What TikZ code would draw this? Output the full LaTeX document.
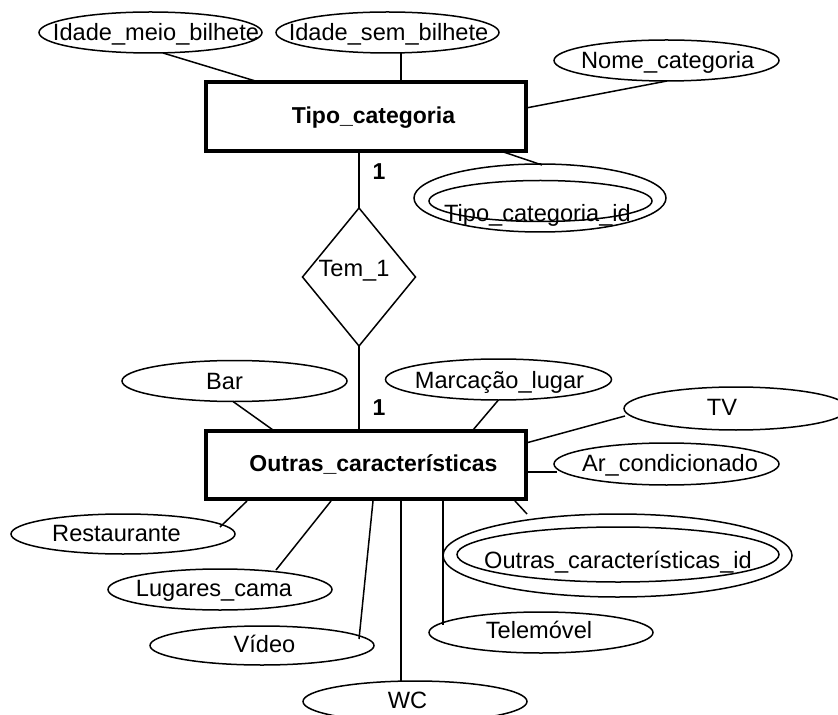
\documentclass[tikz,border=0pt]{standalone}
\usepackage{fontspec}
\setmainfont{Liberation Sans}
\usetikzlibrary{shapes.geometric,calc}

\begin{document}
\begin{tikzpicture}[x=0.5pt,y=-0.5pt,
  every node/.style={inner sep=0pt, outer sep=0pt},
  link/.style={line width=0.75pt},
  entity/.style={draw, rectangle, line width=2pt},
  attr/.style={draw, ellipse, line width=0.75pt},
  rel/.style={draw, diamond, line width=0.75pt},
  txt/.style={anchor=base, font=\fontsize{11.8}{14}\selectfont},
  btxt/.style={anchor=base, font=\fontsize{11.5}{14}\selectfont\bfseries},
]
\useasboundingbox (0,0) rectangle (838,715);

% entities
\node[entity, minimum width=160pt, minimum height=34.5pt] (tc) at (366,116.5) {};
\node[btxt] (tc-t) at (373.5,124) {Tipo\_categoria};
\node[entity, minimum width=160pt, minimum height=34pt] (oc) at (366,465) {};
\node[btxt] (oc-t) at (373.5,471.7) {Outras\_características};

% relationship
\node[rel, minimum width=56.5pt, minimum height=69pt] (tem) at (359,277) {};
\node[txt] (tem-t) at (354,276.7) {Tem\_1};
\draw[link] (tem.north) -- (tem.north |- tc.south);
\draw[link] (tem.south) -- (tem.south |- oc.north);
\node[btxt] (card-a) at (379,180) {1};
\node[btxt] (card-b) at (379,415) {1};

% attributes of Tipo_categoria
\node[attr, minimum width=111.5pt, minimum height=20.5pt] (imb) at (150.5,32.5) {};
\node[txt] (imb-t) at (156,40.7) {Idade\_meio\_bilhete};
\node[attr, minimum width=111.5pt, minimum height=20.5pt] (isb) at (387.5,32.5) {};
\node[txt] (isb-t) at (388.5,40.7) {Idade\_sem\_bilhete};
\node[attr, minimum width=112.5pt, minimum height=20.5pt] (nc) at (666.5,60.5) {};
\node[txt] (nc-t) at (667.7,68.3) {Nome\_categoria};
\node[attr, minimum width=126pt, minimum height=34pt] (tci) at (540,198) {};
\node[attr, minimum width=111.5pt, minimum height=20.5pt] (tci-in) at (540.5,201) {};
\node[txt] (tci-t) at (537.5,222) {Tipo\_categoria\_id};

\draw[link] ($(imb)+(12.5,20.5)$) -- ($(tc)+(-109,-35)$);
\draw[link] ($(isb)+(13.5,20.5)$) -- ($(tc)+(35,-35)$);
\draw[link] ($(nc)+(0.5,20.5)$) -- ($(tc)+(160,-8.5)$);
\draw[link] ($(tc)+(136,35)$) -- ($(tci)+(2,-33)$);

% attributes of Outras_caracteristicas
\node[attr, minimum width=112.5pt, minimum height=20.5pt] (bar) at (234.5,381) {};
\node[txt] (bar-t) at (224.5,389.3) {Bar};
\node[attr, minimum width=113pt, minimum height=20.5pt] (ml) at (498.5,379.5) {};
\node[txt] (ml-t) at (499.5,388) {Marcação\_lugar};
\node[attr, minimum width=112pt, minimum height=21.5pt] (tv) at (736,408.5) {};
\node[txt] (tv-t) at (722,415) {TV};
\node[attr, minimum width=112.5pt, minimum height=21pt] (ac) at (666.5,464) {};
\node[txt] (ac-t) at (670,471.7) {Ar\_condicionado};
\node[attr, minimum width=174.5pt, minimum height=41.5pt] (oci) at (617.5,555.5) {};
\node[attr, minimum width=161pt, minimum height=27.5pt] (oci-in) at (618,554.5) {};
\node[txt] (oci-t) at (618,568.3) {Outras\_características\_id};
\node[attr, minimum width=112pt, minimum height=20.5pt] (tel) at (541,632.5) {};
\node[txt] (tel-t) at (539,638.3) {Telemóvel};
\node[attr, minimum width=112pt, minimum height=20.5pt] (wc) at (415,701.5) {};
\node[txt] (wc-t) at (407.5,708) {WC};
\node[attr, minimum width=112pt, minimum height=19.5pt] (vid) at (262,645.5) {};
\node[txt] (vid-t) at (264.5,652.7) {Vídeo};
\node[attr, minimum width=112pt, minimum height=20.5pt] (lc) at (220,589.5) {};
\node[txt] (lc-t) at (214,596.7) {Lugares\_cama};
\node[attr, minimum width=112pt, minimum height=20pt] (rest) at (123,534) {};
\node[txt] (rest-t) at (116.5,541.7) {Restaurante};

\draw[link] ($(bar)+(-1.5,20.5)$) -- ($(oc)+(-93,-35)$);
\draw[link] ($(ml)+(-0.5,21)$) -- ($(oc)+(107,-35)$);
\draw[link] ($(tv)+(-111,7.5)$) -- ($(oc)+(160,-22)$);
\draw[link] ($(oc)+(160,7)$) -- ($(ac)+(-110,8)$);
\draw[link] ($(oc)+(149,36)$) -- ($(oci)+(-90.5,-41.5)$);
\draw[link] ($(oc)+(77,36)$) -- ($(tel)+(-98,-7.5)$);
\draw[link] ($(oc)+(35,36)$) -- ($(wc)+(-14,-20.5)$);
\draw[link] ($(oc)+(7,36)$) -- ($(vid)+(97,-6.5)$);
\draw[link] ($(oc)+(-35,36)$) -- ($(lc)+(56,-19.5)$);
\draw[link] ($(oc)+(-119,36)$) -- ($(rest)+(97,-7)$);
\end{tikzpicture}
\end{document}
